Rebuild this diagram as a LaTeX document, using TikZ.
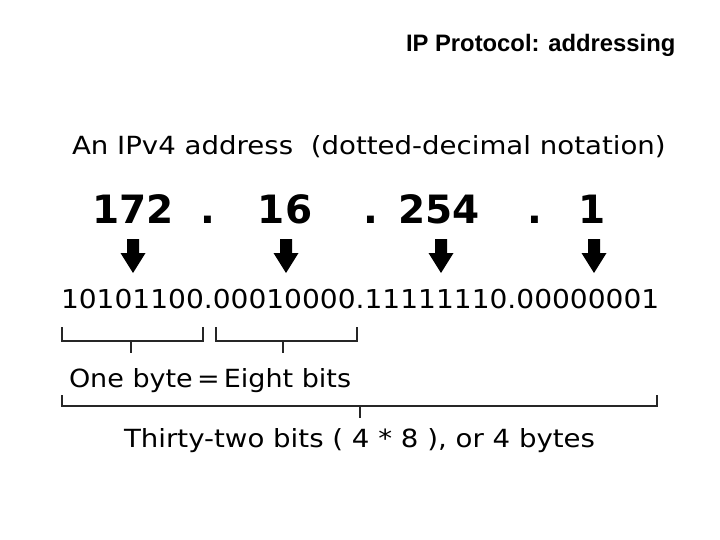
\documentclass[tikz,border=0pt]{standalone}
\usepackage{fontspec}
\setmainfont{DejaVu Sans}
\newfontfamily\dvs[FakeStretch=1.08]{DejaVu Sans}
\newfontfamily\dvw[FakeStretch=1.105]{DejaVu Sans}
\newfontfamily\ttl{Liberation Sans}
\begin{document}
\begin{tikzpicture}[x=1pt,y=-1pt,
  txt/.style={inner sep=0pt,outer sep=0pt,anchor=base west},
  num/.style={inner sep=0pt,outer sep=0pt,anchor=base,font=\bfseries\fontsize{39}{46}\selectfont},
  brk/.style={draw=black!85,line width=1.4pt},
  blockarrow/.pic={\fill[black] (-6,0) -- (6,0) -- (6,14) -- (12.5,14) -- (0,34) -- (-12.5,14) -- (-6,14) -- cycle;}]
\useasboundingbox (0,0) rectangle (720,540);
\fill[white] (0,0) rectangle (720,540);
\node[txt,font=\ttl\bfseries\fontsize{23.8}{28}\selectfont] (title) at (406,52) {IP Protocol: addressing};
\node[txt,font=\dvw\fontsize{25}{30}\selectfont] (hdr) at (72,155) {An IPv4 address \ (dotted-decimal notation)};
\node[num] (d1) at (133,223) {172};
\node[num] (p1) at (208,223) {.};
\node[num] (d2) at (285,223) {16};
\node[num] (p2) at (371,223) {.};
\node[num] (d3) at (439,223) {254};
\node[num] (p3) at (535,223) {.};
\node[num] (d4) at (592,223) {1};
\pic at (133,239) {blockarrow};
\pic at (286,239) {blockarrow};
\pic at (441,239) {blockarrow};
\pic at (594,239) {blockarrow};
\node[txt,font=\dvs\fontsize{26}{31}\selectfont] (bin) at (61,308) {10101100.00010000.11111110.00000001};
% byte brackets
\coordinate (b1l) at (62,327); \coordinate (b1r) at (203,327);
\coordinate (b2l) at (216,327); \coordinate (b2r) at (357,327);
\draw[brk] (b1l) |- (131,341) -| (b1r); \draw[brk] (131,341) -- (131,353);
\draw[brk] (b2l) |- (283,341) -| (b2r); \draw[brk] (283,341) -- (283,353);
\node[txt,font=\dvs\fontsize{25}{30}\selectfont] (byte) at (69,387) {One byte\,=\,Eight bits};
% whole bracket
\coordinate (wl) at (62,395); \coordinate (wr) at (657,395);
\draw[brk] (wl) |- (360,406) -| (wr); \draw[brk] (360,406) -- (360,418);
\node[txt,font=\dvw\fontsize{25}{30}\selectfont] (all) at (124,447) {Thirty-two bits ( 4 * 8 ), or 4 bytes};
\end{tikzpicture}
\end{document}
